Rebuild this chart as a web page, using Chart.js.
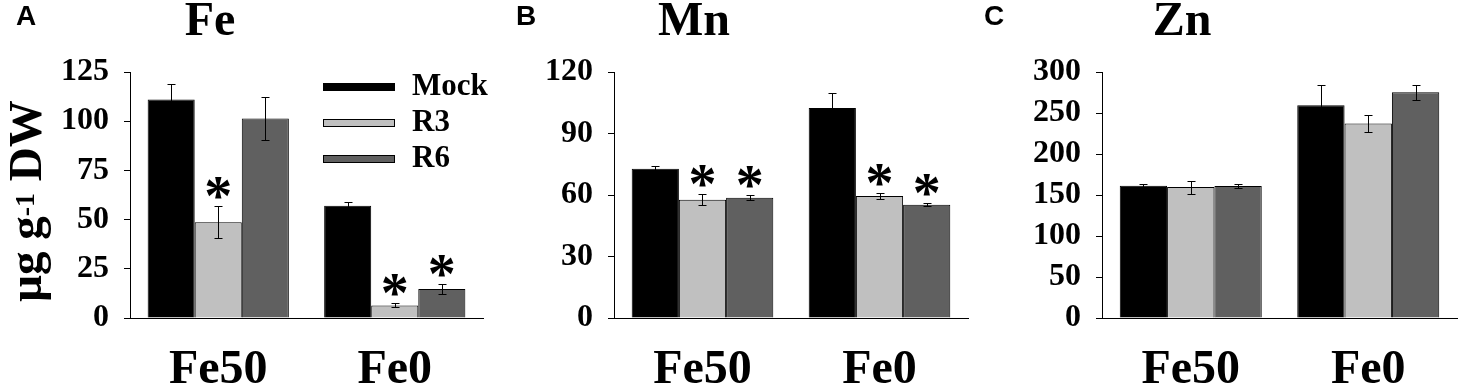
<!DOCTYPE html>
<html>
<head>
<meta charset="utf-8">
<title>Fe, Mn and Zn content</title>
<script src="https://cdn.jsdelivr.net/npm/chart.js@4.4.1/dist/chart.umd.min.js"></script>
<style>
  html, body { margin: 0; padding: 0; background: #fff; }
  #wrap { position: relative; width: 1460px; height: 390px; overflow: hidden; }
  canvas { position: absolute; top: 0; }
</style>
</head>
<body>
<div id="wrap">
  <canvas id="chartFe" width="490" height="390" style="left:0px"></canvas>
  <canvas id="chartMn" width="480" height="390" style="left:490px"></canvas>
  <canvas id="chartZn" width="490" height="390" style="left:970px"></canvas>
</div>
<script>
// Categories and series
const categories = ['Fe50', 'Fe0'];
const seriesNames = ['Mock', 'R3', 'R6'];
const seriesColors = ['#000000', '#c0c0c0', '#606060'];

// Fe (panel A)
const feMock = [111, 57.1];
const feR3 = [48.7, 6.4];
const feR6 = [101.4, 14.7];
const feMockErr = [8, 2];
const feR3Err = [8, 1];
const feR6Err = [10.7, 2.7];
const feR3Sig = [true, true];
const feR6Sig = [false, true];

// Mn (panel B)
const mnMock = [72.8, 102.4];
const mnR3 = [57.7, 59.5];
const mnR6 = [58.7, 55.3];
const mnMockErr = [1.3, 7.3];
const mnR3Err = [2.8, 1.3];
const mnR6Err = [1.2, 0.8];
const mnR3Sig = [true, true];
const mnR6Sig = [true, true];

// Zn (panel C)
const znMock = [161.3, 259.6];
const znR3 = [159.7, 237.3];
const znR6 = [160.9, 275.4];
const znMockErr = [2.5, 25];
const znR3Err = [7.9, 10.7];
const znR6Err = [2.7, 9.2];

const SERIF = '"Liberation Serif", "Times New Roman", Times, serif';
const SANS = '"Liberation Sans", Arial, Helvetica, sans-serif';

Chart.defaults.font.family = SERIF;
Chart.defaults.color = '#000';

/**
 * Draw error bars and significance asterisks on top of the bars
 */
const errorBarPlugin = {
    id: 'errorBars',
    afterDatasetsDraw(chart) {
        const ctx = chart.ctx;
        const yScale = chart.scales.y;
        ctx.save();
        ctx.strokeStyle = '#000';
        ctx.fillStyle = '#000';
        ctx.lineWidth = 1;
        chart.data.datasets.forEach((ds, i) => {
            const meta = chart.getDatasetMeta(i);
            meta.data.forEach((bar, j) => {
                const v = ds.data[j];
                const e = ds.errors[j];
                const x = Math.round(bar.x) + 0.5;
                const yTop = Math.round(yScale.getPixelForValue(v + e)) + 0.5;
                const yBot = Math.round(yScale.getPixelForValue(v - e)) + 0.5;
                ctx.beginPath();
                ctx.moveTo(x, yTop); ctx.lineTo(x, yBot);
                ctx.moveTo(x - 4, yTop); ctx.lineTo(x + 4, yTop);
                ctx.moveTo(x - 4, yBot); ctx.lineTo(x + 4, yBot);
                ctx.stroke();
                if (ds.sig && ds.sig[j]) {
                    ctx.font = 'bold 56px ' + SERIF;
                    ctx.textAlign = 'center';
                    ctx.textBaseline = 'alphabetic';
                    const m = ctx.measureText('*');
                    ctx.fillText('*', bar.x, yTop - 8 - m.actualBoundingBoxDescent);
                }
            });
        });
        ctx.restore();
    }
};

/**
 * Panel letter, element title, legend and y axis title
 */
const decorPlugin = {
    id: 'decor',
    afterDraw(chart, args, opts) {
        const ctx = chart.ctx;
        const area = chart.chartArea;
        ctx.save();
        ctx.fillStyle = '#000';
        ctx.textBaseline = 'alphabetic';

        // panel letter
        ctx.font = 'bold 28px ' + SANS;
        ctx.textAlign = 'left';
        ctx.fillText(opts.letter, opts.letterX, 25);

        // element title
        ctx.font = 'bold 48px ' + SERIF;
        ctx.textAlign = 'center';
        ctx.fillText(opts.title, area.left + 80, 35);

        // legend
        if (opts.legend) {
            chart.data.datasets.forEach((ds, i) => {
                const y = area.top + 15 + 36 * i;
                const x0 = area.left + 193;
                ctx.fillStyle = ds.backgroundColor;
                ctx.fillRect(x0, y - 4, 72, 8);
                ctx.strokeStyle = '#000';
                ctx.lineWidth = 1;
                ctx.strokeRect(x0 + 0.5, y - 3.5, 71, 7);
                ctx.fillStyle = '#000';
                ctx.font = 'bold 31px ' + SERIF;
                ctx.textAlign = 'left';
                ctx.textBaseline = 'middle';
                ctx.fillText(ds.label, x0 + 89, y);
            });
        }

        // y axis title: µg g-1 DW (rotated)
        if (opts.yTitle) {
            const big = 'bold 47px ' + SERIF;
            const small = 'bold 28px ' + SERIF;
            const parts = [
                { t: 'μg g', f: big, dy: 0 },
                { t: '-1', f: small, dy: -7 },
                { t: ' DW', f: big, dy: 0 }
            ];
            let total = 0;
            parts.forEach(p => { ctx.font = p.f; p.w = ctx.measureText(p.t).width; total += p.w; });
            ctx.translate(41, 201);
            ctx.rotate(-Math.PI / 2);
            ctx.textAlign = 'left';
            ctx.textBaseline = 'alphabetic';
            let x = -total / 2;
            parts.forEach(p => {
                ctx.font = p.f;
                ctx.fillText(p.t, x, p.dy);
                x += p.w;
            });
        }
        ctx.restore();
    }
};

function makeDatasets(values, errors, sigs) {
    return seriesNames.map((name, i) => ({
        label: name,
        data: values[i],
        errors: errors[i],
        sig: sigs[i],
        backgroundColor: seriesColors[i],
        borderColor: '#000',
        borderWidth: 1,
        barPercentage: 1.0,
        categoryPercentage: 0.8
    }));
}

function makePanel(canvasId, cfg) {
    return new Chart(document.getElementById(canvasId), {
        type: 'bar',
        data: {
            labels: categories,
            datasets: makeDatasets(cfg.values, cfg.errors, cfg.sigs)
        },
        options: {
            responsive: false,
            animation: false,
            layout: { padding: { top: 72, right: cfg.padRight, bottom: 0, left: 0 } },
            plugins: {
                legend: { display: false },
                tooltip: { enabled: false },
                decor: {
                    letter: cfg.letter,
                    letterX: cfg.letterX,
                    title: cfg.title,
                    legend: !!cfg.legend,
                    yTitle: !!cfg.yTitle
                }
            },
            scales: {
                x: {
                    grid: { display: false, drawTicks: false },
                    border: { display: true, color: '#000', width: 1 },
                    ticks: {
                        font: { size: 48, weight: 'bold', family: SERIF },
                        color: '#000',
                        padding: 24,
                        maxRotation: 0,
                        autoSkip: false
                    },
                    afterFit: s => { s.height = 72; }
                },
                y: {
                    min: 0,
                    max: cfg.max,
                    grid: { display: true, drawOnChartArea: false, drawTicks: true, tickLength: 6, color: '#000' },
                    border: { display: true, color: '#000', width: 1 },
                    ticks: {
                        stepSize: cfg.step,
                        autoSkip: false,
                        font: { size: 32, weight: 'bold', family: SERIF },
                        color: '#000',
                        padding: 15
                    },
                    afterFit: s => { s.width = cfg.axisLeft; }
                }
            }
        },
        plugins: [errorBarPlugin, decorPlugin]
    });
}

document.addEventListener('DOMContentLoaded', function() {
    makePanel('chartFe', {
        values: [feMock, feR3, feR6],
        errors: [feMockErr, feR3Err, feR6Err],
        sigs: [null, feR3Sig, feR6Sig],
        max: 125, step: 25,
        axisLeft: 130, padRight: 7,
        letter: 'A', letterX: 16, title: 'Fe',
        legend: true, yTitle: true
    });
    makePanel('chartMn', {
        values: [mnMock, mnR3, mnR6],
        errors: [mnMockErr, mnR3Err, mnR6Err],
        sigs: [null, mnR3Sig, mnR6Sig],
        max: 120, step: 30,
        axisLeft: 124, padRight: 2,
        letter: 'B', letterX: 26, title: 'Mn'
    });
    makePanel('chartZn', {
        values: [znMock, znR3, znR6],
        errors: [znMockErr, znR3Err, znR6Err],
        sigs: [null, null, null],
        max: 300, step: 50,
        axisLeft: 132, padRight: 3,
        letter: 'C', letterX: 14, title: 'Zn'
    });
});
</script>
</body>
</html>
